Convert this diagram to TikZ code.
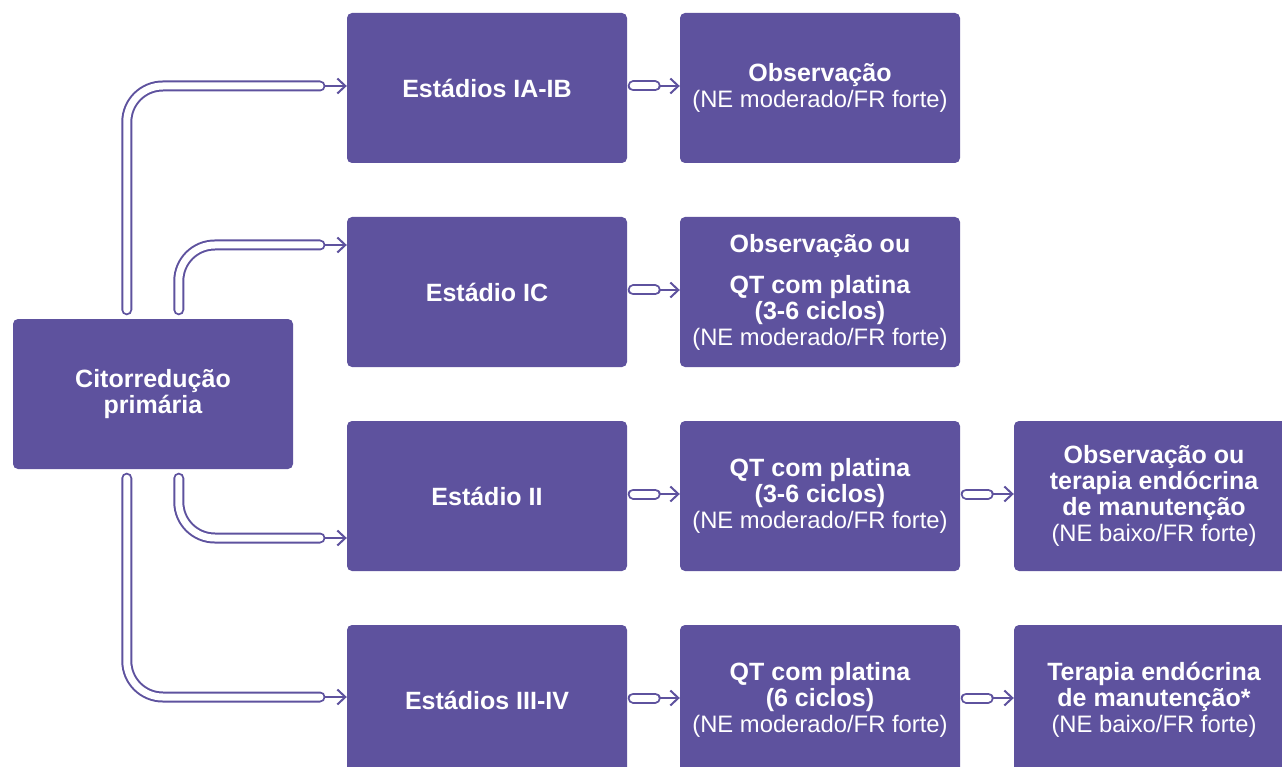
\documentclass[tikz,border=0pt]{standalone}
\usepackage{fontspec}
\setmainfont{Liberation Sans}
\usetikzlibrary{arrows.meta,calc}
\definecolor{pc}{HTML}{5E529E}
\newcommand{\bl}[1]{{\fontsize{25}{26}\selectfont\bfseries #1}}
\begin{document}
\begin{tikzpicture}[x=1pt,y=-1pt,
 box/.style={fill=pc, rounded corners=5pt, minimum width=280pt, minimum height=150pt, inner sep=0pt, text=white, align=center, font=\fontsize{23.8}{26}\selectfont},
 tube/.style={draw=pc, line width=2pt, double=white, double distance=7pt, line cap=round, rounded corners=36pt},
 arr/.style={draw=pc, line width=2pt, -{Straight Barb[length=8pt,width=15pt]}}]
\useasboundingbox (0,0) rectangle (1282,767);
% boxes
\node[box] (cit) at (153,394) {\bl{Citorredução}\\\bl{primária}};
\node[box] (s1) at (487,88) {\bl{Estádios IA-IB}};
\node[box] (s2) at (487,292) {\bl{Estádio IC}};
\node[box] (s3) at (487,496) {\bl{Estádio II}};
\node[box] (s4) at (487,700) {\bl{Estádios III-IV}};
\node[box] (t1) at (820,88) {\bl{Observação}\\(NE moderado/FR forte)};
\node[box] (t2) at (820,292) {\bl{Observação ou}\\[15pt]\bl{QT com platina}\\\bl{(3-6 ciclos)}\\(NE moderado/FR forte)};
\node[box] (t3) at (820,496) {\bl{QT com platina}\\\bl{(3-6 ciclos)}\\(NE moderado/FR forte)};
\node[box] (t4) at (820,700) {\bl{QT com platina}\\\bl{(6 ciclos)}\\(NE moderado/FR forte)};
\node[box] (u3) at (1154,496) {\bl{Observação ou}\\\bl{terapia endócrina}\\\bl{de manutenção}\\(NE baixo/FR forte)};
\node[box] (u4) at (1154,700) {\bl{Terapia endócrina}\\\bl{de manutenção*}\\(NE baixo/FR forte)};
% branch tubes from cit
\coordinate (e1) at (320,86);
\coordinate (e2) at (320,245);
\coordinate (e3) at (320,538);
\coordinate (e4) at (320,697);
\draw[tube] ($(cit.north west)+(114,-9)$) |- (e1);
\draw[tube] ($(cit.north west)+(166,-9)$) |- (e2);
\draw[tube] ($(cit.south west)+(166,9)$) |- (e3);
\draw[tube] ($(cit.south west)+(114,9)$) |- (e4);
\draw[arr] ($(e1)+(5,0)$) -- (e1 -| s1.west);
\draw[arr] ($(e2)+(5,0)$) -- (e2 -| s2.west);
\draw[arr] ($(e3)+(5,0)$) -- (e3 -| s3.west);
\draw[arr] ($(e4)+(5,0)$) -- (e4 -| s4.west);
% short tubes col2 -> col3
\foreach \a/\b in {s1/t1,s2/t2,s3/t3,s4/t4}{
  \draw[tube] ($(\a.east)+(6,-2)$) -- ($(\a.east)+(28,-2)$);
  \draw[arr] ($(\a.east)+(33,-2)$) -- ($(\b.west)+(0,-2)$);
}
\foreach \a/\b in {t3/u3,t4/u4}{
  \draw[tube] ($(\a.east)+(6,-2)$) -- ($(\a.east)+(28,-2)$);
  \draw[arr] ($(\a.east)+(33,-2)$) -- ($(\b.west)+(0,-2)$);
}
\end{tikzpicture}
\end{document}
